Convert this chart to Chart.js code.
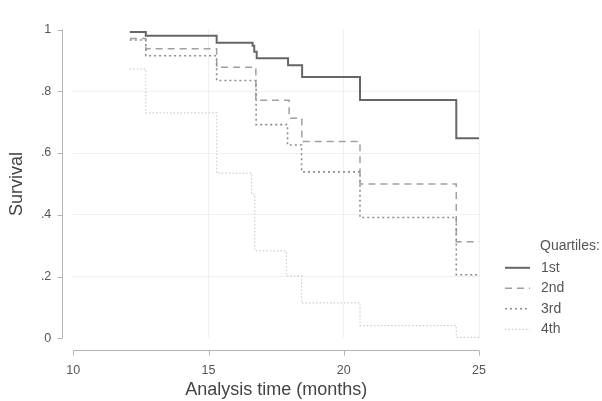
<!DOCTYPE html>
<html>
<head>
<meta charset="utf-8">
<script src="https://cdn.jsdelivr.net/npm/chart.js@4.4.1/dist/chart.umd.min.js"></script>
<style>
  html, body { margin: 0; padding: 0; background: #fff; }
  #wrap { width: 602px; height: 401px; position: relative; }
</style>
</head>
<body>
<div id="wrap"><canvas id="kmChart"></canvas></div>
<script>
// Kaplan-Meier estimates by quartile (time in months, survival after each step)
const q1Time = [12.09, 12.68, 15.30, 16.63, 16.69, 16.78, 17.94, 18.46, 20.60, 24.16, 25.0];
const q1Surv = [0.992, 0.980, 0.957, 0.947, 0.928, 0.907, 0.884, 0.846, 0.772, 0.648, 0.648];

const q2Time = [12.09, 12.68, 15.30, 16.75, 17.98, 18.45, 20.60, 24.16, 25.0];
const q2Surv = [0.971, 0.938, 0.878, 0.771, 0.713, 0.637, 0.500, 0.313, 0.313];

const q3Time = [12.09, 12.68, 15.30, 16.76, 17.92, 18.44, 20.60, 24.16, 25.0];
const q3Surv = [0.966, 0.915, 0.835, 0.692, 0.626, 0.539, 0.391, 0.206, 0.206];

const q4Time = [12.09, 12.68, 15.30, 16.59, 16.71, 17.88, 18.44, 20.60, 24.16, 25.0];
const q4Surv = [0.872, 0.730, 0.535, 0.466, 0.283, 0.202, 0.115, 0.041, 0.003, 0.003];

const seriesNames = ['1st', '2nd', '3rd', '4th'];
const xTicks = [10, 15, 20, 25];
const yTickLabels = ['0', '.2', '.4', '.6', '.8', '1'];

const FONT = "'Liberation Sans', Arial, sans-serif";

function toPoints(times, surv) {
  return times.map((t, i) => ({ x: t, y: surv[i] }));
}

const styles = [
  { color: '#666666', width: 2,   dash: [] },
  { color: '#a0a0a0', width: 1.5, dash: [7, 5] },
  { color: '#8e8e8e', width: 1.6, dash: [2, 3] },
  { color: '#cfcfcf', width: 1.2, dash: [1.5, 2] }
];

const allTimes = [q1Time, q2Time, q3Time, q4Time];
const allSurv = [q1Surv, q2Surv, q3Surv, q4Surv];

const datasets = seriesNames.map((name, i) => ({
  label: name,
  data: toPoints(allTimes[i], allSurv[i]),
  stepped: 'before',
  borderColor: styles[i].color,
  borderWidth: styles[i].width,
  borderDash: styles[i].dash,
  pointRadius: 0,
  fill: false,
  order: 4 - i
}));

// Stata-style detached axes drawn from the scales
const detachedAxes = {
  id: 'detachedAxes',
  afterDraw(chart) {
    const { ctx, chartArea, scales } = chart;
    const xs = scales.x, ys = scales.y;
    ctx.save();
    ctx.strokeStyle = '#b4b4b4';
    ctx.lineWidth = 1;

    const ax = Math.round(chartArea.left - 11) + 0.5;
    ctx.beginPath();
    ctx.moveTo(ax, ys.getPixelForValue(0));
    ctx.lineTo(ax, ys.getPixelForValue(1));
    ys.ticks.forEach(t => {
      const py = Math.round(ys.getPixelForValue(t.value)) + 0.5;
      ctx.moveTo(ax, py);
      ctx.lineTo(ax - 5, py);
    });
    ctx.stroke();

    const ay = Math.round(chartArea.bottom + 12) + 0.5;
    ctx.beginPath();
    ctx.moveTo(xs.getPixelForValue(10), ay);
    ctx.lineTo(xs.getPixelForValue(25), ay);
    xTicks.forEach(v => {
      const px = Math.round(xs.getPixelForValue(v)) + 0.5;
      ctx.moveTo(px, ay);
      ctx.lineTo(px, ay + 5);
    });
    ctx.stroke();
    ctx.restore();
  }
};

// Legend on the right with a title
const quartileLegend = {
  id: 'quartileLegend',
  afterDraw(chart) {
    const { ctx, chartArea } = chart;
    const x0 = chartArea.right + 26;
    const top = chartArea.bottom - 92;
    ctx.save();
    ctx.font = '14px ' + FONT;
    ctx.fillStyle = '#555';
    ctx.textBaseline = 'middle';
    ctx.fillText('Quartiles:', x0 + 35, top);
    chart.data.datasets.forEach((ds, i) => {
      const y = top + 21.5 + i * 20.5;
      ctx.beginPath();
      ctx.strokeStyle = ds.borderColor;
      ctx.lineWidth = ds.borderWidth;
      ctx.setLineDash(ds.borderDash);
      ctx.moveTo(x0, y);
      ctx.lineTo(x0 + 25, y);
      ctx.stroke();
      ctx.setLineDash([]);
      ctx.fillText(ds.label, x0 + 36, y);
    });
    ctx.restore();
  }
};

const ctx = document.getElementById('kmChart').getContext('2d');

new Chart(ctx, {
  type: 'line',
  data: { datasets },
  plugins: [detachedAxes, quartileLegend],
  options: {
    responsive: true,
    maintainAspectRatio: false,
    animation: false,
    layout: { padding: { top: 20, right: 123, bottom: 0, left: 0 } },
    plugins: {
      legend: { display: false },
      tooltip: { enabled: false }
    },
    scales: {
      x: {
        type: 'linear',
        min: 10,
        max: 25,
        afterBuildTicks: s => { s.ticks = xTicks.map(v => ({ value: v })); },
        afterFit: s => { s.height = 62.7; },
        grid: {
          drawTicks: false,
          color: c => (c.tick && c.tick.value === 10) ? 'rgba(0,0,0,0)' : '#f0f0f0'
        },
        border: { display: false },
        ticks: {
          padding: 25,
          color: '#555',
          font: { family: FONT, size: 12.5 }
        },
        title: {
          display: true,
          text: 'Analysis time (months)',
          color: '#444',
          font: { family: FONT, size: 18 },
          padding: { top: 0, bottom: 0 }
        }
      },
      y: {
        type: 'linear',
        min: 0,
        max: 1,
        afterFit: s => { s.width = 73.3; },
        grid: {
          drawTicks: false,
          color: c => (c.tick && (c.tick.value === 0 || c.tick.value === 1)) ? 'rgba(0,0,0,0)' : '#f0f0f0'
        },
        border: { display: false },
        ticks: {
          stepSize: 0.2,
          padding: 22,
          color: '#555',
          font: { family: FONT, size: 12.5 },
          callback: (v, i) => yTickLabels[i]
        },
        title: {
          display: true,
          text: 'Survival',
          color: '#444',
          font: { family: FONT, size: 18 },
          padding: { top: 6, bottom: 0 }
        }
      }
    }
  }
});
</script>
</body>
</html>
